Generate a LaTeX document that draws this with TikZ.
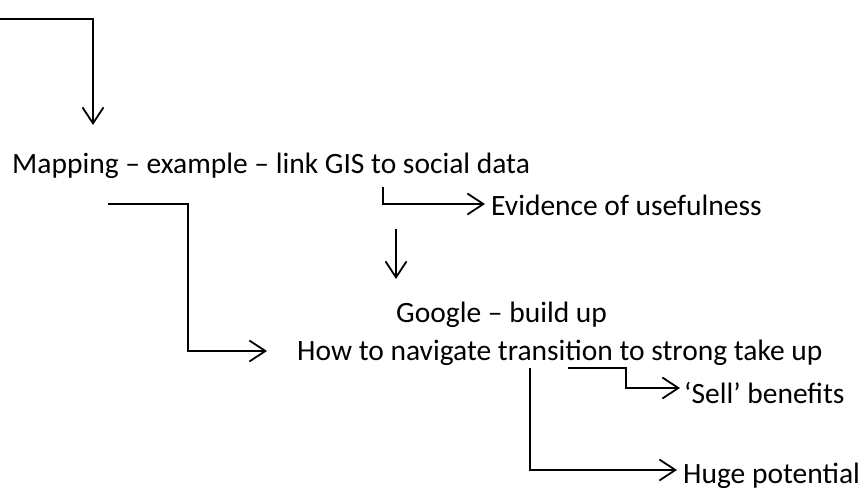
\documentclass[tikz,border=0pt]{standalone}
\usepackage{fontspec}
\setmainfont{Carlito}
\usetikzlibrary{arrows.meta}
\begin{document}
\begin{tikzpicture}[x=1pt,y=-1pt,
  lbl/.style={font=\fontsize{29.5}{35}\selectfont, inner sep=0pt,
    text height=19pt, text depth=0pt, anchor=base west},
  conn/.style={line width=1.8pt, line join=miter,
    -{Straight Barb[length=16pt,width=21pt,line width=1.8pt]}}]
  \useasboundingbox (0,0) rectangle (861,492);

  % text items
  \node[lbl] (map)  at (12,173)   {Mapping – example – link GIS to social data};
  \node[lbl] (evid) at (491,215)  {Evidence of usefulness};
  \node[lbl] (goog) at (396,322)  {Google – build up};
  \node[lbl] (how)  at (297,360.5) {How to navigate transition to strong take up};
  \node[lbl] (sell) at (684,403)  {‘Sell’ benefits};
  \node[lbl] (huge) at (683,483)  {Huge potential};

  % connector bends and free ends
  \coordinate (top0) at (0,19);
  \coordinate (top1) at (93,19);
  \coordinate (top2) at (93,125);
  \coordinate (mapA) at (108,204);
  \coordinate (mapB) at (188,204);
  \coordinate (mapC) at (188,351);
  \coordinate (evA)  at (383,187);
  \coordinate (evB)  at (383,204);
  \coordinate (dnA)  at (396,229);
  \coordinate (dnB)  at (396,279);
  \coordinate (selA) at (568,368);
  \coordinate (selB) at (626,368);
  \coordinate (selC) at (626,388);
  \coordinate (hugA) at (530,368);
  \coordinate (hugB) at (530,470);

  % connectors
  \draw[conn] (top0) -- (top1) -- (top2);
  \draw[conn, shorten >=30pt] (mapA) -- (mapB) -- (mapC) -- (mapC -| how.west);
  \draw[conn, shorten >=6pt] (evA) -- (evB) -- (evB -| evid.west);
  \draw[conn] (dnA) -- (dnB);
  \draw[conn, shorten >=4pt] (selA) -- (selB) -- (selC) -- (selC -| sell.west);
  \draw[conn, shorten >=6pt] (hugA) -- (hugB) -- (hugB -| huge.west);
\end{tikzpicture}
\end{document}
